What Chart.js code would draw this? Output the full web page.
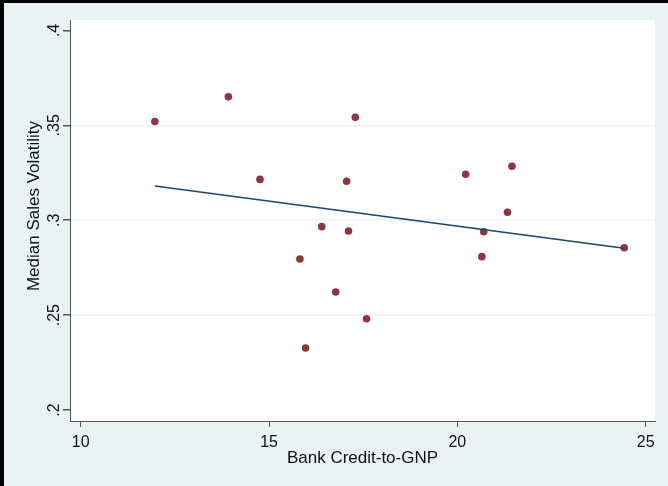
<!DOCTYPE html>
<html>
<head>
<meta charset="utf-8">
<style>
  html, body { margin: 0; padding: 0; background: #eaf2f3; }
  #wrap { width: 668px; height: 486px; }
</style>
<script src="https://cdn.jsdelivr.net/npm/chart.js@4/dist/chart.umd.min.js"></script>
</head>
<body>
<div id="wrap"><canvas id="c" width="668" height="486"></canvas></div>
<script>
// Bank credit-to-GNP (x) against median sales volatility (y)
const creditToGNP = [11.97, 13.92, 14.76, 15.82, 15.97, 16.40, 16.77, 17.06, 17.11, 17.29, 17.59, 20.22, 20.65, 20.70, 21.33, 21.45, 24.43];
const salesVolatility = [0.352, 0.365, 0.3215, 0.2796, 0.2327, 0.2966, 0.2622, 0.3205, 0.2943, 0.3542, 0.2481, 0.3242, 0.2808, 0.2939, 0.3042, 0.3284, 0.2855];

// Fitted values at the ends of the data range
const fitX = [11.97, 24.43];
const fitY = [0.318, 0.2852];

// Axis ticks
const xTicks = [10, 15, 20, 25];
const yTicks = [0.2, 0.25, 0.3, 0.35, 0.4];
const yTickLabels = ['.2', '.25', '.3', '.35', '.4'];

const xTitle = 'Bank Credit-to-GNP';
const yTitle = 'Median Sales Volatility';

const FONT = '"Liberation Sans", Arial, Helvetica, sans-serif';
const BG = '#eaf2f3';
const AXIS = '#555555';

const scatterPts = creditToGNP.map((x, i) => ({ x, y: salesVolatility[i] }));
const fitPts = fitX.map((x, i) => ({ x, y: fitY[i] }));

const framePlugin = {
  id: 'frame',
  beforeDraw(chart) {
    const { ctx, chartArea: a } = chart;
    ctx.save();
    ctx.fillStyle = BG;
    ctx.fillRect(0, 0, chart.width, chart.height);
    ctx.fillStyle = '#000';
    ctx.fillRect(0, 0, chart.width, 3);
    ctx.fillRect(0, 0, 4, chart.height);
    ctx.fillStyle = '#ffffff';
    ctx.fillRect(a.left, a.top, a.right - a.left, a.bottom - a.top);
    ctx.restore();
  },
  afterDraw(chart) {
    const { ctx, chartArea: a } = chart;
    const ys = chart.scales.y;
    ctx.save();
    ctx.fillStyle = '#111';
    // y tick labels, rotated to read bottom-to-top
    ctx.font = '16px ' + FONT;
    ctx.textAlign = 'center';
    ctx.textBaseline = 'alphabetic';
    yTicks.forEach((v, i) => {
      const py = ys.getPixelForValue(v);
      ctx.save();
      ctx.translate(59, py);
      ctx.rotate(-Math.PI / 2);
      ctx.fillText(yTickLabels[i], 0, 0);
      ctx.restore();
    });
    // y axis title
    ctx.font = '17px ' + FONT;
    ctx.save();
    ctx.translate(39, 206);
    ctx.rotate(-Math.PI / 2);
    ctx.fillText(yTitle, 0, 0);
    ctx.restore();
    // x axis title
    ctx.fillText(xTitle, (a.left + a.right) / 2, 462.5);
    ctx.restore();
  }
};

new Chart(document.getElementById('c'), {
  type: 'scatter',
  data: {
    datasets: [
      {
        label: 'Median sales volatility',
        data: scatterPts,
        backgroundColor: '#90353b',
        borderColor: '#90353b',
        pointRadius: 3.8,
        pointHoverRadius: 3.8,
        borderWidth: 0,
        order: 2
      },
      {
        label: 'Fitted values',
        data: fitPts,
        showLine: true,
        borderColor: '#1a476f',
        borderWidth: 1.6,
        pointRadius: 0,
        fill: false,
        order: 1
      }
    ]
  },
  options: {
    responsive: false,
    animation: false,
    events: [],
    layout: { padding: { top: 20, right: 13, left: 0, bottom: 0 } },
    plugins: {
      legend: { display: false },
      tooltip: { enabled: false }
    },
    scales: {
      x: {
        type: 'linear',
        min: 9.716,
        max: 25.247,
        afterBuildTicks(s) { s.ticks = xTicks.map(v => ({ value: v })); },
        afterFit(s) { s.height = 65; },
        border: { display: true, color: AXIS, width: 1 },
        grid: { drawOnChartArea: false, drawTicks: true, tickLength: 6, tickColor: AXIS, color: AXIS },
        ticks: {
          color: '#111',
          font: { family: FONT, size: 16 },
          padding: 6,
          maxRotation: 0,
          minRotation: 0,
          callback: v => String(v)
        }
      },
      y: {
        type: 'linear',
        min: 0.1942,
        max: 0.4055,
        afterBuildTicks(s) { s.ticks = yTicks.map(v => ({ value: v })); },
        afterFit(s) { s.width = 70; },
        border: { display: true, color: AXIS, width: 1 },
        grid: {
          drawTicks: true,
          tickLength: 7,
          tickColor: AXIS,
          lineWidth: 1.5,
          color: ctx => (ctx.tick && (Math.abs(ctx.tick.value - 0.2) < 1e-6 || Math.abs(ctx.tick.value - 0.4) < 1e-6)) ? 'rgba(0,0,0,0)' : BG
        },
        ticks: { display: false }
      }
    }
  },
  plugins: [framePlugin]
});
</script>
</body>
</html>
